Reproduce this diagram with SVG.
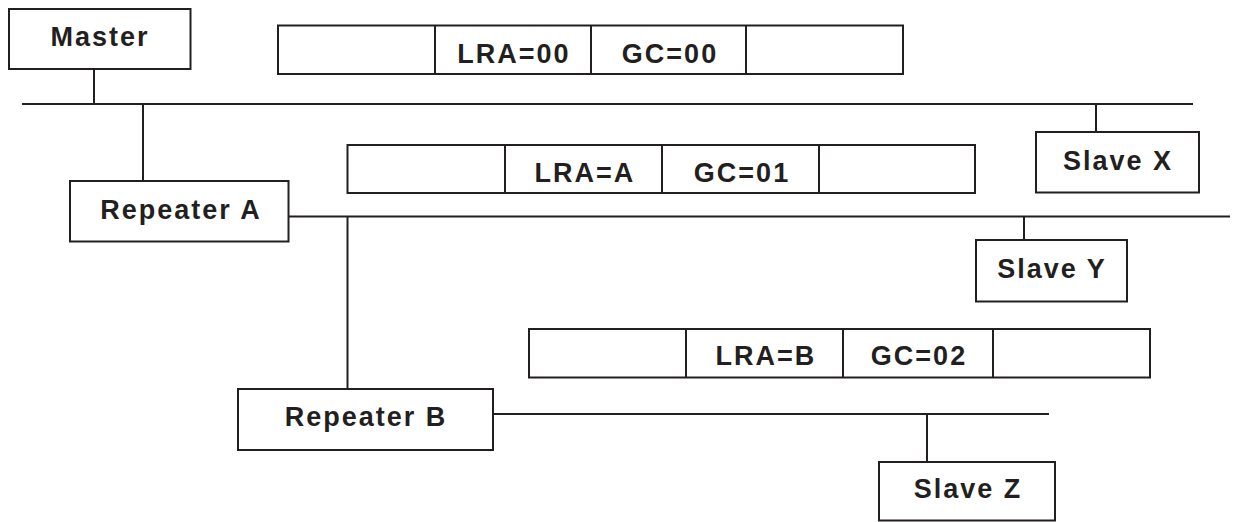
<svg xmlns="http://www.w3.org/2000/svg" width="1235" height="522" viewBox="0 0 1235 522">
<style>
.box{fill:#fff;stroke:#231f20;stroke-width:2}
.ln{stroke:#231f20;stroke-width:2;fill:none}
.t{font-family:"Liberation Sans",Arial,Helvetica,sans-serif;font-weight:bold;font-size:27px;letter-spacing:2px;fill:#231f20;text-anchor:middle}
</style>
<rect width="1235" height="522" fill="#fff"/>
<g id="connectors">
<line class="ln" x1="22" y1="104" x2="1193" y2="104"/>
<line class="ln" x1="94" y1="69" x2="94" y2="104"/>
<line class="ln" x1="143" y1="104" x2="143" y2="181"/>
<line class="ln" x1="1096" y1="104" x2="1096" y2="132"/>
<line class="ln" x1="288" y1="216.5" x2="1230" y2="216.5"/>
<line class="ln" x1="347.5" y1="216.5" x2="347.5" y2="389"/>
<line class="ln" x1="1024" y1="216.5" x2="1024" y2="240"/>
<line class="ln" x1="493" y1="414" x2="1049" y2="414"/>
<line class="ln" x1="927" y1="414" x2="927" y2="462"/>
</g>
<g id="master">
<rect class="box" x="9" y="9" width="181.5" height="60"/>
<text class="t" x="100" y="46">Master</text>
</g>
<g id="frame1">
<rect class="box" x="278" y="25.5" width="625" height="48.5"/>
<line class="ln" x1="435" y1="25.5" x2="435" y2="74"/>
<line class="ln" x1="591" y1="25.5" x2="591" y2="74"/>
<line class="ln" x1="746" y1="25.5" x2="746" y2="74"/>
<text class="t" x="514" y="62.5">LRA=00</text>
<text class="t" x="670" y="62.5">GC=00</text>
</g>
<g id="slaveX">
<rect class="box" x="1036" y="132" width="163" height="60.5"/>
<text class="t" x="1118" y="170">Slave X</text>
</g>
<g id="frame2">
<rect class="box" x="347.5" y="145" width="627.5" height="48"/>
<line class="ln" x1="505" y1="145" x2="505" y2="193"/>
<line class="ln" x1="662" y1="145" x2="662" y2="193"/>
<line class="ln" x1="819" y1="145" x2="819" y2="193"/>
<text class="t" x="585" y="182">LRA=A</text>
<text class="t" x="742" y="182">GC=01</text>
</g>
<g id="repeaterA">
<rect class="box" x="70" y="181" width="218.5" height="60.5"/>
<text class="t" x="181" y="219">Repeater A</text>
</g>
<g id="slaveY">
<rect class="box" x="976" y="240" width="151" height="61.5"/>
<text class="t" x="1052" y="278">Slave Y</text>
</g>
<g id="frame3">
<rect class="box" x="529" y="329" width="621" height="48.5"/>
<line class="ln" x1="686" y1="329" x2="686" y2="377.5"/>
<line class="ln" x1="843" y1="329" x2="843" y2="377.5"/>
<line class="ln" x1="993" y1="329" x2="993" y2="377.5"/>
<text class="t" x="766" y="365">LRA=B</text>
<text class="t" x="919" y="365">GC=02</text>
</g>
<g id="repeaterB">
<rect class="box" x="238" y="389" width="255" height="61"/>
<text class="t" x="366" y="426">Repeater B</text>
</g>
<g id="slaveZ">
<rect class="box" x="879" y="462" width="176" height="58.5"/>
<text class="t" x="968" y="498">Slave Z</text>
</g>
</svg>
